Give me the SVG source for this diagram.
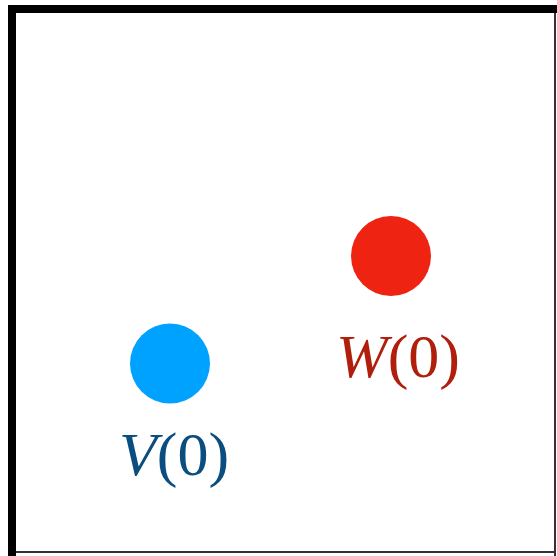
<svg xmlns="http://www.w3.org/2000/svg" width="557" height="556" viewBox="0 0 557 556">
<style>
.lbl{font-family:"Liberation Serif","Times New Roman",serif;font-size:62px;text-anchor:middle}
</style>
<rect width="557" height="556" fill="#fff"/>
<g id="frame">
<rect x="8" y="5" width="549" height="8" fill="#000"/>
<rect x="8" y="5" width="8" height="551" fill="#000"/>
<rect x="554" y="13" width="2" height="543" fill="#333"/>
<rect x="16" y="551" width="538" height="2" fill="#333"/>
</g>
<g id="nodeV">
<circle cx="170" cy="363.5" r="40" fill="#00A2FF"/>
<text class="lbl" x="174" y="475" fill="#0A4D7E"><tspan font-style="italic">V</tspan>(0)</text>
</g>
<g id="nodeW">
<circle cx="391" cy="256" r="40" fill="#EE2311"/>
<text class="lbl" x="398" y="377" fill="#B01E0C"><tspan font-style="italic">W</tspan>(0)</text>
</g>
<g id="connectors"/>
</svg>
